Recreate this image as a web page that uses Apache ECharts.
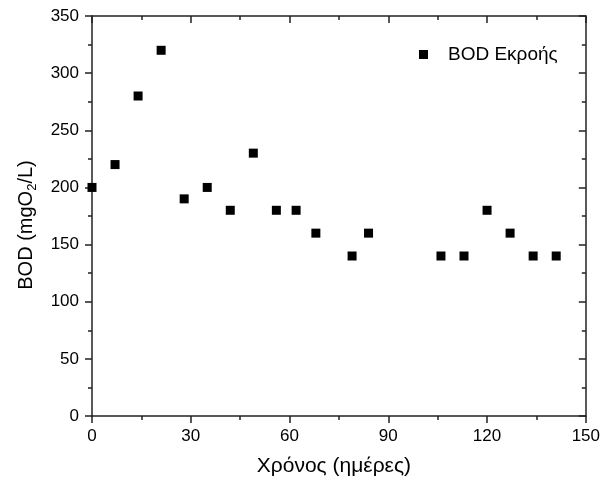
<!DOCTYPE html>
<html>
<head>
<meta charset="utf-8">
<script src="https://cdn.jsdelivr.net/npm/echarts@6/dist/echarts.min.js"></script>
<style>html,body{margin:0;padding:0;background:#fff}#c{width:603px;height:482px}</style>
</head>
<body>
<div id="c"></div>
<script>
const days = [0, 7, 14, 21, 28, 35, 42, 49, 56, 62, 68, 79, 84, 106, 113, 120, 127, 134, 141];
const bod = [200, 220, 280, 320, 190, 200, 180, 230, 180, 180, 160, 140, 160, 140, 140, 180, 160, 140, 140];
const seriesName = 'BOD Εκροής';
const xTitle = 'Χρόνος (ημέρες)';

const font = 'Liberation Sans, Arial, Helvetica, sans-serif';
const lineC = '#222';
const chart = echarts.init(document.getElementById('c'));
const baseX = {type: 'value', min: 0, max: 150, interval: 30};
const baseY = {type: 'value', min: 0, max: 350, interval: 50};
const axisLine = {show: true, onZero: false, lineStyle: {color: lineC, width: 1.5}};
chart.setOption({
  animation: false,
  grid: {left: 92, right: 14, top: 16, bottom: 66},
  legend: {
    left: 414, top: 40, itemWidth: 9, itemHeight: 9, icon: 'rect',
    data: [seriesName],
    textStyle: {fontFamily: font, fontSize: 19, color: '#000', padding: [0, 0, 0, 15]}
  },
  xAxis: [
    Object.assign({}, baseX, {
      position: 'bottom',
      name: xTitle, nameLocation: 'middle', nameGap: 40,
      nameTextStyle: {fontFamily: font, fontSize: 21, color: '#000', padding: [0, 10, 0, 0]},
      axisLine: axisLine,
      axisTick: {show: true, inside: false, length: 7, lineStyle: {color: lineC, width: 1.5}},
      minorTick: {show: true, splitNumber: 2, length: 4, lineStyle: {color: lineC, width: 1.5}},
      axisLabel: {fontFamily: font, fontSize: 17, color: '#000', margin: 12},
      splitLine: {show: false}, minorSplitLine: {show: false}
    }),
    Object.assign({}, baseX, {
      position: 'top',
      axisLine: axisLine,
      axisTick: {show: true, inside: true, length: 7, lineStyle: {color: lineC, width: 1.5}},
      minorTick: {show: true, splitNumber: 2, length: 4, lineStyle: {color: lineC, width: 1.5}},
      axisLabel: {show: false},
      splitLine: {show: false}
    })
  ],
  yAxis: [
    Object.assign({}, baseY, {
      position: 'left',
      name: '{a|BOD (mgO}{s|2}{a|/L)}', nameLocation: 'middle', nameGap: 53,
      nameTextStyle: {
        fontFamily: font, fontSize: 20, color: '#000', padding: [0, 18, 0, 0],
        rich: {
          a: {fontFamily: font, fontSize: 20, color: '#000'},
          s: {fontFamily: font, fontSize: 13, color: '#000', padding: [12, 0, 0, 0]}
        }
      },
      axisLine: axisLine,
      axisTick: {show: true, inside: false, length: 7, lineStyle: {color: lineC, width: 1.5}},
      minorTick: {show: true, splitNumber: 2, length: 4, lineStyle: {color: lineC, width: 1.5}},
      axisLabel: {fontFamily: font, fontSize: 17, color: '#000', margin: 13},
      splitLine: {show: false}
    }),
    Object.assign({}, baseY, {
      position: 'right',
      axisLine: axisLine,
      axisTick: {show: true, inside: true, length: 7, lineStyle: {color: lineC, width: 1.5}},
      minorTick: {show: true, splitNumber: 2, length: 4, lineStyle: {color: lineC, width: 1.5}},
      axisLabel: {show: false},
      splitLine: {show: false}
    })
  ],
  series: [{
    name: seriesName,
    type: 'scatter',
    symbol: 'rect',
    symbolSize: 9,
    itemStyle: {color: '#000', opacity: 1},
    data: days.map((d, i) => [d, bod[i]])
  }]
});
</script>
</body>
</html>
